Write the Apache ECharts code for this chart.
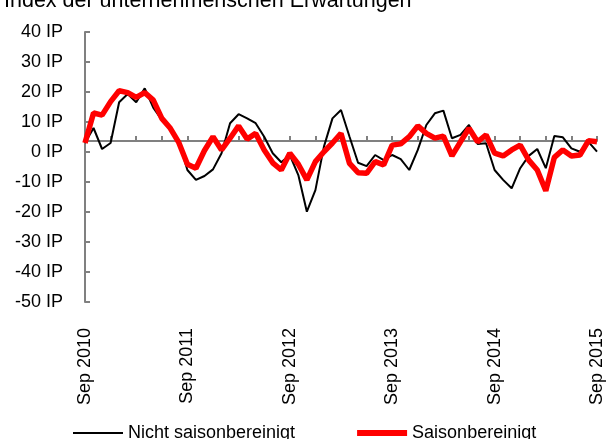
<!DOCTYPE html>
<html>
<head>
<meta charset="utf-8">
<script src="https://cdn.jsdelivr.net/npm/echarts@6/dist/echarts.min.js"></script>
<style>
  html, body { margin: 0; padding: 0; background: #fff; }
  #chart { width: 606px; height: 439px; }
</style>
</head>
<body>
<div id="chart"></div>
<script>
// Monatswerte Sep 2010 - Sep 2015
var monthNames = ['Jan', 'Feb', 'Mrz', 'Apr', 'Mai', 'Jun', 'Jul', 'Aug', 'Sep', 'Okt', 'Nov', 'Dez'];
var months = [];
for (var k = 0; k < 61; k++) {
  var m = (8 + k) % 12;
  var y = 2010 + Math.floor((8 + k) / 12);
  months.push(monthNames[m] + ' ' + y);
}

var nichtSaison = [
  3, 8, 1, 3, 16.6, 19.3, 16.6, 21.2, 14.8, 10.7,
  7.5, 3.4, -6, -9.3, -8, -5.8, -0.4, 9.6, 12.6, 11.2,
  9.6, 5.1, -0.4, -3.4, -1, -7.7, -19.9, -12.7, 1.8, 11.2,
  14, 5.1, -3.6, -4.7, -1, -2.7, -1, -2.4, -6, 0.7,
  9, 12.9, 13.8, 4.6, 5.7, 9, 2.7, 2.9, -6, -9.3,
  -12.1, -5.4, -1.3, 1, -5.4, 5.3, 4.9, 1.2, 0.1, 3.4,
  0.1
];
var saison = [
  3, 13, 12.3, 16.8, 20.4, 19.8, 18.2, 19.8, 17.3, 11.2,
  7.9, 3.1, -4.1, -5.4, 0.5, 5.1, 0.7, 4.6, 8.7, 4.3,
  6.2, 0.7, -3.6, -6, -0.4, -4.1, -9.3, -3.2, 0.1, 3,
  6.2, -3.8, -6.9, -7.1, -3.2, -4.3, 2.3, 2.7, 5.1, 8.7,
  6.2, 4.6, 5.3, -1.3, 3.4, 7.9, 3.4, 5.7, -0.4, -1.3,
  0.7, 2.3, -2.7, -6, -12.9, -1.8, 0.7, -1.3, -1, 3.8,
  3.4
];

var chart = echarts.init(document.getElementById('chart'), null, { renderer: 'canvas' });

var gray = '#808080';
var font = 'Liberation Sans, Arial, sans-serif';

var option = {
  animation: false,
  title: {
    text: 'Index der unternehmerischen Erwartungen',
    left: 4,
    top: -10,
    padding: 0,
    textStyle: { fontFamily: font, fontSize: 21.5, fontWeight: 'normal', color: '#000' }
  },
  legend: {
    left: 68,
    top: 419,
    itemWidth: 50,
    itemHeight: 14,
    itemGap: 62,
    textStyle: { fontFamily: font, fontSize: 18, color: '#000' },
    data: [
      { name: 'Nicht saisonbereinigt', icon: 'path://M0,0H48V2H0Z', itemStyle: { color: '#000' } },
      { name: 'Saisonbereinigt', icon: 'path://M0,0H50V6H0Z', itemStyle: { color: '#ff0000' } }
    ]
  },
  grid: { left: 85, right: 8, top: 32, bottom: 137 },
  xAxis: [
    {
      type: 'category',
      data: months,
      boundaryGap: false,
      axisLine: { show: false },
      axisTick: { show: false },
      splitLine: { show: false },
      axisLabel: {
        rotate: 90,
        margin: 26,
        fontFamily: font,
        fontSize: 18,
        color: '#000',
        interval: function (idx) { return idx % 12 === 0; }
      }
    },
    {
      type: 'category',
      data: months,
      boundaryGap: false,
      position: 'bottom',
      offset: -161,
      axisLine: { show: true, lineStyle: { color: gray, width: 2 } },
      axisTick: {
        show: true,
        inside: true,
        length: 5,
        lineStyle: { color: gray, width: 2 },
        interval: function (idx) { return idx % 3 === 0; }
      },
      axisLabel: { show: false },
      splitLine: { show: false }
    }
  ],
  yAxis: {
    type: 'value',
    min: -50,
    max: 40,
    interval: 10,
    axisLine: { show: true, lineStyle: { color: gray, width: 2 } },
    axisTick: { show: true, inside: true, length: 5, lineStyle: { color: gray, width: 2 } },
    splitLine: { show: false },
    axisLabel: {
      margin: 22,
      fontFamily: font,
      fontSize: 18,
      color: '#000',
      formatter: function (v) { return v + ' IP'; }
    }
  },
  series: [
    {
      name: 'Nicht saisonbereinigt',
      type: 'line',
      data: nichtSaison,
      symbol: 'none',
      color: '#000',
      lineStyle: { color: '#000', width: 2 },
      z: 3
    },
    {
      name: 'Saisonbereinigt',
      type: 'line',
      data: saison,
      symbol: 'none',
      color: '#ff0000',
      lineStyle: { color: '#ff0000', width: 5.5 },
      z: 4
    }
  ]
};

chart.setOption(option);
</script>
</body>
</html>
